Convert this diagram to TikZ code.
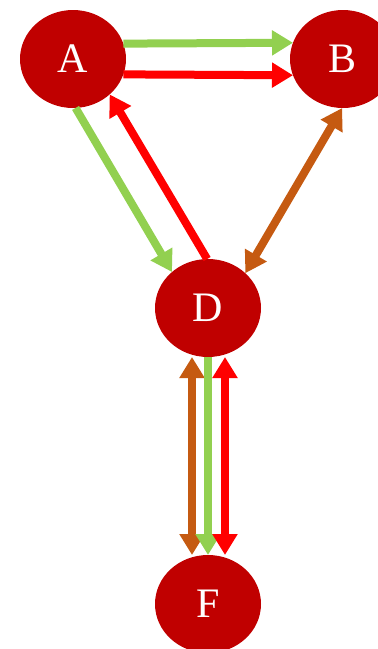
\documentclass[tikz,border=0pt]{standalone}
\usepackage{fontspec}
\setmainfont{Liberation Serif}
\usetikzlibrary{shapes.geometric,arrows.meta}
\definecolor{nodered}{HTML}{C00000}
\definecolor{agreen}{HTML}{92D050}
\definecolor{ared}{HTML}{FF0000}
\definecolor{aorange}{HTML}{C55A11}
\begin{document}
\begin{tikzpicture}[x=1pt,y=-1pt,
  vertex/.style={ellipse,fill=nodered,draw=none,minimum width=106pt,minimum height=98pt,inner sep=0pt,outer sep=0pt,text=white,font=\fontsize{42}{42}\selectfont},
  conn/.style={line width=8pt},
  tipA/.tip={Triangle[length=21pt,width=24pt]}
]
\useasboundingbox (0,0) rectangle (378,649);
\node[vertex] (A) at (73,59) {A};
\node[vertex] (B) at (343,59) {B};
\node[vertex] (D) at (208,308) {D};
\node[vertex] (F) at (208,604) {F};
% A -> B
\draw[conn,agreen,-{tipA}] (A.17.7) -- (B.162.3);
\draw[conn,ared,-{tipA}] (A.-17.7) -- (B.-162.3);
% A -> D, D -> A
\draw[conn,agreen,-{tipA}] (A.-87) -- (D.135);
\draw[conn,ared,-{tipA}] (D.91) -- (A.-44);
% B <-> D
\draw[conn,aorange,{tipA}-{tipA}] (B.-91) -- (D.43);
% D - F
\draw[conn,aorange,{tipA}-{tipA}] ([xshift=-16pt]D.south) -- ([xshift=-16pt]F.north);
\draw[conn,agreen,-{tipA}] (D.south) -- (F.north);
\draw[conn,ared,{tipA}-{tipA}] ([xshift=17pt]D.south) -- ([xshift=17pt]F.north);
\end{tikzpicture}
\end{document}
